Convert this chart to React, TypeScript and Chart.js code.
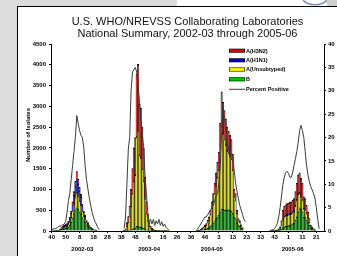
import React, { useEffect, useRef } from "react";
import { Chart, registerables } from "chart.js";

Chart.register(...registerables);

// ---------- categories / ticks ----------
const weekCount = 196; // consecutive MMWR weeks starting 2002 week 40
const xTickLabels = ["40", "50", "8", "18", "28", "38", "48", "6", "16", "26", "36", "46", "3", "13", "23", "33", "43", "1", "11", "21"];
const seasonLabels = ["2002-03", "2003-04", "2004-05", "2005-06"];
const seasonStartIndex = [0, 52, 104, 157]; // week 40 of each season
const seasonLabelIndex = [22, 70, 115, 173];
const yTickStep = 500;
const yMax = 4500;
const pctTickStep = 5;
const pctMax = 40;

// ---------- series (weekly, from week 40 of each season) ----------
// 2002-03
const b_0203 = [0, 1, 2, 3, 4, 10, 22, 38, 50, 60, 65, 75, 95, 140, 210, 310, 420, 510, 560, 520, 460, 410, 320, 250, 210, 150, 120, 80, 58, 40, 28, 18, 10];
const unsub_0203 = [0, 1, 1, 1, 2, 5, 10, 20, 28, 35, 40, 45, 60, 85, 120, 170, 230, 290, 350, 310, 260, 210, 150, 110, 80, 55, 40, 25, 16, 10, 6, 4, 3];
const h1n1_0203 = [0, 0, 0, 1, 1, 3, 7, 12, 18, 25, 30, 35, 45, 65, 100, 150, 220, 290, 340, 300, 250, 200, 140, 90, 65, 40, 30, 18, 12, 8, 5, 2, 1];
const h3n2_0203 = [0, 0, 0, 0, 1, 2, 6, 10, 14, 20, 25, 25, 30, 40, 50, 70, 80, 110, 180, 120, 80, 60, 40, 30, 25, 15, 10, 7, 4, 2, 1, 1, 1];
const pct_0203 = [0.3, 0.4, 0.5, 0.5, 0.7, 1, 1, 1.2, 1.3, 1.5, 2, 4, 6.5, 8, 11, 14, 17, 20, 24.7, 23, 21.5, 20.5, 20, 18, 14, 11, 9, 7, 5.5, 4, 3, 2, 1.5, 0.8, 0.3];
// 2003-04
const b_0304 = [1, 2, 6, 10, 18, 30, 45, 60, 70, 110, 120, 95, 90, 80, 65, 45, 25, 15, 8, 5, 3, 2, 2, 1, 1, 1, 1, 1, 1, 1, 1, 1, 1];
const unsub_0304 = [6, 28, 113, 198, 339, 565, 848, 1131, 1270, 2145, 2275, 1723, 1668, 1410, 1127, 729, 392, 223, 111, 66, 39, 22, 13, 8, 5, 4, 3, 2, 2, 1, 1, 1, 1];
const h1n1_0304 = [0, 0, 1, 2, 3, 5, 7, 9, 10, 15, 15, 12, 12, 10, 8, 6, 3, 2, 1, 1, 0, 0, 0, 0, 0, 0, 0, 0, 0, 0, 0, 0, 0];
const h3n2_0304 = [3, 20, 80, 140, 240, 400, 600, 800, 900, 1500, 1600, 1220, 1180, 1000, 800, 520, 280, 160, 80, 48, 28, 16, 10, 6, 4, 3, 2, 2, 1, 1, 1, 0, 0];
const pct_0304 = [0.5, 3, 10, 17.5, 20, 30, 34, 34.5, 35, 34, 31, 28, 24, 21, 18, 12, 8, 4, 1.8, 2.5, 1.5, 2.5, 1.2, 2.2, 1.5, 2.5, 1.2, 2, 1, 1.5, 0.8, 0.5, 0.3];
// 2004-05 (53-week year)
const b_0405 = [2, 4, 8, 14, 22, 30, 40, 50, 65, 80, 110, 150, 190, 240, 290, 330, 380, 450, 530, 520, 510, 500, 500, 510, 500, 480, 420, 330, 300, 200, 140, 110, 70, 40];
const unsub_0405 = [2, 4, 8, 17, 33, 49, 70, 92, 140, 188, 285, 404, 522, 660, 798, 946, 1084, 1510, 1978, 1820, 1690, 1562, 1424, 1355, 1296, 1248, 1040, 494, 445, 217, 113, 104, 59, 30];
const h1n1_0405 = [0, 0, 0, 1, 1, 1, 2, 2, 3, 4, 5, 6, 8, 10, 12, 14, 16, 20, 22, 20, 20, 18, 16, 15, 14, 12, 10, 6, 5, 3, 2, 1, 1, 0];
const h3n2_0405 = [1, 2, 4, 8, 14, 20, 28, 36, 52, 68, 100, 140, 180, 240, 300, 360, 420, 620, 820, 740, 680, 620, 560, 520, 490, 460, 380, 170, 150, 80, 45, 35, 20, 10];
const pct_0405 = [0.3, 0.5, 1, 1.5, 2, 2.5, 3, 3, 3.5, 4, 4.5, 5, 5.5, 6.5, 7.5, 8, 10, 14, 21, 26.7, 24, 22, 19, 17.5, 17, 16.5, 16, 13, 10.3, 8.5, 7, 5.5, 4.5, 3.5, 2.5, 2];
// 2005-06
const b_0506 = [1, 1, 2, 2, 3, 6, 8, 15, 40, 80, 100, 110, 120, 130, 140, 150, 170, 190, 260, 340, 460, 560, 520, 460, 330, 320, 260, 200, 140, 70, 50, 30, 15];
const unsub_0506 = [2, 2, 3, 4, 6, 13, 16, 42, 102, 205, 242, 250, 260, 260, 265, 260, 268, 278, 335, 395, 420, 340, 302, 280, 200, 192, 156, 110, 64, 27, 20, 12, 6];
const h1n1_0506 = [0, 0, 0, 0, 1, 1, 1, 3, 8, 15, 18, 20, 20, 20, 20, 20, 22, 22, 25, 30, 30, 30, 28, 25, 20, 18, 14, 10, 6, 3, 2, 1, 1];
const h3n2_0506 = [2, 2, 3, 4, 5, 10, 15, 40, 100, 200, 240, 250, 260, 260, 265, 270, 280, 290, 330, 380, 440, 470, 420, 380, 270, 250, 190, 140, 90, 40, 28, 17, 8];
const pct_0506 = [0.2, 0.2, 0.3, 0.5, 1, 1.6, 3, 5, 7.5, 10, 11.5, 12.5, 12.8, 12.3, 11.5, 11.5, 12.5, 14, 15.5, 17, 19, 21.5, 22.6, 21.5, 20, 17, 14, 12, 10.5, 9.5, 8.8, 8, 7, 5, 2.5, 0.5];

const seriesNames = ["A(H3N2)", "A(H1N1)", "A(Unsubtyped)", "B", "Percent Positive"];
const colH3N2 = "#e80000";
const colH1N1 = "#0000e8";
const colUnsub = "#ffff00";
const colB = "#00c800";
const colLine = "#3a3a3a";

function place(seasons: number[][]): (number | null)[] {
  const out: (number | null)[] = new Array(weekCount).fill(null);
  seasons.forEach((vals, s) => {
    vals.forEach((v, i) => {
      out[seasonStartIndex[s] + i] = v;
    });
  });
  return out;
}

const FONT = "Arial, 'Liberation Sans', sans-serif";

const decorPlugin = {
  id: "decor",
  afterDraw(chart: any) {
    const ctx = chart.ctx as CanvasRenderingContext2D;
    const area = chart.chartArea;
    const xs = chart.scales.x;
    ctx.save();
    // title
    ctx.fillStyle = "#111";
    ctx.font = `11px ${FONT}`;
    ctx.textAlign = "center";
    ctx.textBaseline = "middle";
    const cx = (area.left + area.right) / 2;
    ctx.fillText("U.S. WHO/NREVSS Collaborating Laboratories", cx, 15);
    ctx.fillText("National Summary, 2002-03 through 2005-06", cx, 26.5);

    // y title
    ctx.save();
    ctx.translate(10, 128);
    ctx.rotate(-Math.PI / 2);
    ctx.font = `bold 6px ${FONT}`;
    ctx.fillStyle = "#000";
    ctx.fillText("Number of Isolates", 0, 0);
    ctx.restore();

    // season labels
    ctx.font = `bold 6px ${FONT}`;
    ctx.fillStyle = "#000";
    seasonLabels.forEach((s, i) => {
      const x = xs.getPixelForValue(seasonLabelIndex[i]);
      ctx.fillText(s, x, area.bottom + 18);
    });

    // legend
    const lx = 211;
    const ly = [43.7, 53.3, 62.5, 72.3, 82.3];
    const cols = [colH3N2, colH1N1, colUnsub, colB];
    ctx.textAlign = "left";
    ctx.font = `bold 5.5px ${FONT}`;
    for (let i = 0; i < 5; i++) {
      const y = ly[i];
      if (i < 4) {
        ctx.fillStyle = "#000";
        ctx.fillRect(lx, y - 2, 16, 4);
        ctx.fillStyle = cols[i];
        ctx.fillRect(lx + 0.6, y - 1.4, 14.8, 2.8);
      } else {
        ctx.strokeStyle = colLine;
        ctx.lineWidth = 1;
        ctx.beginPath();
        ctx.moveTo(lx, y);
        ctx.lineTo(lx + 16, y);
        ctx.stroke();
      }
      ctx.fillStyle = "#000";
      ctx.fillText(seriesNames[i], lx + 17, y + 0.3);
    }
    ctx.restore();
  },
};

export default function App() {
  const ref = useRef<HTMLCanvasElement>(null);

  useEffect(() => {
    if (!ref.current) return;
    const labels = Array.from({ length: weekCount }, (_, i) => String(i));
    const barCommon = {
      type: "bar" as const,
      borderColor: "#000",
      borderWidth: 0.7,
      barPercentage: 1,
      categoryPercentage: 1,
      yAxisID: "y",
      stack: "flu",
      order: 1,
    };
    const tickFont = { family: FONT, size: 6, weight: "bold" as const };
    const chart = new Chart(ref.current, {
      type: "bar",
      data: {
        labels,
        datasets: [
          { ...barCommon, label: "B", data: place([b_0203, b_0304, b_0405, b_0506]), backgroundColor: colB },
          { ...barCommon, label: "A(Unsubtyped)", data: place([unsub_0203, unsub_0304, unsub_0405, unsub_0506]), backgroundColor: colUnsub },
          { ...barCommon, label: "A(H1N1)", data: place([h1n1_0203, h1n1_0304, h1n1_0405, h1n1_0506]), backgroundColor: colH1N1 },
          { ...barCommon, label: "A(H3N2)", data: place([h3n2_0203, h3n2_0304, h3n2_0405, h3n2_0506]), backgroundColor: colH3N2 },
          {
            type: "line" as const,
            label: "Percent Positive",
            data: place([pct_0203, pct_0304, pct_0405, pct_0506]),
            borderColor: colLine,
            borderWidth: 1,
            pointRadius: 0,
            tension: 0,
            spanGaps: false,
            yAxisID: "y1",
            order: 0,
          } as any,
        ],
      },
      options: {
        responsive: false,
        animation: false,
        layout: { padding: { left: 0, right: 0, top: 37, bottom: 0 } },
        plugins: { legend: { display: false }, tooltip: { enabled: false }, title: { display: false } },
        scales: {
          x: {
            type: "category",
            offset: true,
            stacked: true,
            grid: {
              display: true,
              drawOnChartArea: false,
              offset: false,
              tickLength: 2,
              color: (c: any) => (c.index % 10 === 0 ? "#000" : "rgba(0,0,0,0)"),
              tickColor: (c: any) => (c.index % 10 === 0 ? "#000" : "rgba(0,0,0,0)"),
            },
            border: { display: true, color: "#000", width: 1 },
            ticks: {
              autoSkip: false,
              maxRotation: 0,
              minRotation: 0,
              padding: 1,
              color: "#000",
              font: tickFont,
              callback: (_v: any, i: number) => (i % 10 === 0 ? xTickLabels[i / 10] ?? "" : ""),
            },
            afterFit: (s: any) => {
              s.height = 25;
            },
          },
          y: {
            position: "left",
            stacked: true,
            min: 0,
            max: yMax,
            grid: { display: true, drawOnChartArea: false, tickLength: 2, color: "#000" },
            border: { display: true, color: "#000", width: 1 },
            ticks: { stepSize: yTickStep, padding: 3, color: "#000", font: tickFont, callback: (v: any) => String(v) },
            afterFit: (s: any) => {
              s.width = 33;
            },
          },
          y1: {
            position: "right",
            min: 0,
            max: pctMax,
            grid: { display: true, drawOnChartArea: false, tickLength: 2, color: "#000" },
            border: { display: true, color: "#000", width: 1 },
            ticks: { stepSize: pctTickStep, padding: 2, color: "#000", font: tickFont, callback: (v: any) => String(v) },
            afterFit: (s: any) => {
              s.width = 13;
            },
          },
        },
      },
      plugins: [decorPlugin],
    });
    return () => chart.destroy();
  }, []);

  return (
    <div style={{ position: "fixed", left: 0, top: 0, width: 337, height: 256, background: "#dcdcdc", overflow: "hidden" }}>
      <div style={{ position: "absolute", left: 177, top: 0, width: 160, height: 7, background: "#fff" }} />
      <svg width={40} height={8} style={{ position: "absolute", left: 297, top: 0 }}>
        <path d="M6 0 A 14 10 0 0 0 30 0" fill="none" stroke="#7d8fae" strokeWidth={1.5} />
        <rect x={30} y={0} width={10} height={8} fill="#cfcfcf" />
      </svg>
      <div
        style={{
          position: "absolute",
          left: 17,
          top: 6,
          width: 320,
          height: 250,
          background: "#fff",
          borderLeft: "1px solid #000",
          borderTop: "1px solid #000",
          boxSizing: "border-box",
        }}
      />
      <canvas ref={ref} width={319} height={249} style={{ position: "absolute", left: 18, top: 7, width: 319, height: 249 }} />
    </div>
  );
}
